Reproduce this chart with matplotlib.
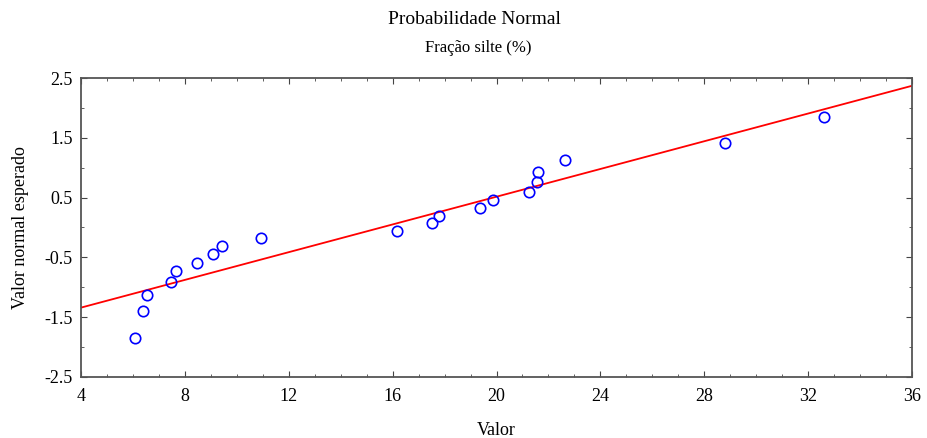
import matplotlib
matplotlib.use('Agg')
import matplotlib.pyplot as plt
from matplotlib.ticker import MultipleLocator

# Dados
valor = [6.08, 6.39, 6.54, 7.47, 7.66, 8.47, 9.08, 9.43, 10.93, 16.17,
         17.52, 17.78, 19.36, 19.86, 21.25, 21.56, 21.60, 22.64, 28.80, 32.61]
esperado = [-1.85, -1.40, -1.13, -0.91, -0.73, -0.59, -0.44, -0.31, -0.18, -0.06,
            0.08, 0.19, 0.33, 0.46, 0.59, 0.76, 0.93, 1.13, 1.41, 1.85]

# Reta de referência
reta_x = [4, 36]
reta_y = [-1.34, 2.37]

xticks = [4, 8, 12, 16, 20, 24, 28, 32, 36]
yticks = [-2.5, -1.5, -0.5, 0.5, 1.5, 2.5]

plt.rcParams['font.family'] = ['Liberation Serif', 'DejaVu Serif']

fig = plt.figure(figsize=(9.28, 4.38), dpi=100)
ax = fig.add_axes([0.0873, 0.1393, 0.8955, 0.6826])

ax.plot(reta_x, reta_y, color='red', linewidth=1.3, zorder=2)
ax.plot(valor, esperado, 'o', markerfacecolor='none', markeredgecolor='blue',
        markersize=7.5, markeredgewidth=1.2, zorder=3)

ax.set_xlim(4, 36)
ax.set_ylim(-2.5, 2.5)
ax.set_xticks(xticks)
ax.set_yticks(yticks)
ax.set_yticklabels(['-2.5', '-1.5', '-0.5', '0.5', '1.5', '2.5'])
ax.xaxis.set_minor_locator(MultipleLocator(1))
ax.yaxis.set_minor_locator(MultipleLocator(0.5))
ax.tick_params(which='both', direction='in', top=True, right=True,
               labelsize=13, color='#444444')
ax.tick_params(axis='x', which='major', pad=8)
ax.tick_params(axis='y', which='major', pad=6)
ax.tick_params(which='major', length=4, width=0.8)
ax.tick_params(which='minor', length=2, width=0.6)
for s in ax.spines.values():
    s.set_color('#555555')
    s.set_linewidth(1.3)

ax.set_xlabel('Valor', fontsize=13, labelpad=12)
ax.set_ylabel('Valor normal esperado', fontsize=13, labelpad=11)

fig.text(0.511, 0.956, 'Probabilidade Normal', ha='center', va='center', fontsize=14)
fig.text(0.515, 0.890, 'Fração silte (%)', ha='center', va='center', fontsize=12)

fig.savefig('out.png', dpi=100)
